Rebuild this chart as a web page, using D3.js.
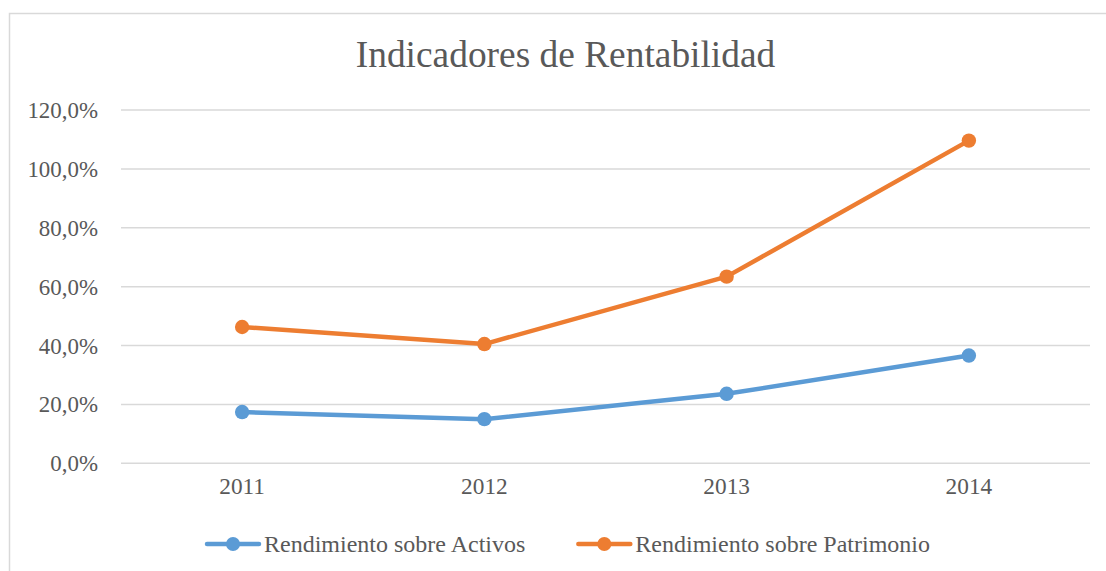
<!DOCTYPE html>
<html>
<head>
<meta charset="utf-8">
<script src="https://cdn.jsdelivr.net/npm/d3@7"></script>
<style>
  body { margin: 0; background: #fff; }
  svg { display: block; font-family: "Liberation Serif", "Times New Roman", serif; }
</style>
</head>
<body>
<div id="chart"></div>
<script>
// Datos
const years = ["2011", "2012", "2013", "2014"];
const activos = [0.174, 0.150, 0.236, 0.366];
const patrimonio = [0.463, 0.405, 0.634, 1.096];
const yTicks = [0, 0.2, 0.4, 0.6, 0.8, 1.0, 1.2];
const seriesNames = ["Rendimiento sobre Activos", "Rendimiento sobre Patrimonio"];
const seriesColors = ["#5B9BD5", "#ED7D31"];

const width = 1106, height = 571;
const textColor = "#595959";
const gridColor = "#D9D9D9";
const serif = "'Liberation Serif', 'Times New Roman', serif";

const svg = d3.select("#chart")
  .append("svg")
  .attr("width", width)
  .attr("height", height);

// Marco del gráfico (se sale por la derecha y abajo)
svg.append("rect")
  .attr("x", 9.5)
  .attr("y", 13.5)
  .attr("width", 1110)
  .attr("height", 580)
  .attr("fill", "none")
  .attr("stroke", gridColor)
  .attr("stroke-width", 1.5);

// Escalas
const x = d3.scaleBand().domain(years).range([121, 1090]);
const y = d3.scaleLinear().domain([0, 1.2]).range([463.3, 110]);
const fmt = d => d3.format(".1f")(d * 100).replace(".", ",") + "%";

// Título
svg.append("text")
  .attr("x", 565.5)
  .attr("y", 67)
  .attr("text-anchor", "middle")
  .attr("font-family", serif)
  .attr("font-size", 37.4)
  .attr("fill", textColor)
  .text("Indicadores de Rentabilidad");

// Líneas de cuadrícula
svg.append("g")
  .selectAll("line")
  .data(yTicks)
  .join("line")
  .attr("x1", 121)
  .attr("x2", 1090)
  .attr("y1", d => y(d))
  .attr("y2", d => y(d))
  .attr("stroke", gridColor)
  .attr("stroke-width", 1.5);

// Eje Y
const yAxis = svg.append("g")
  .attr("transform", "translate(106,0)")
  .call(d3.axisLeft(y).tickValues(yTicks).tickFormat(fmt).tickSize(0).tickPadding(8));
yAxis.attr("font-family", serif);
yAxis.select(".domain").remove();
yAxis.selectAll("text")
  .attr("font-size", 22.9)
  .attr("fill", textColor)
  .attr("dy", "0.33em");

// Eje X
const xAxis = svg.append("g")
  .attr("transform", "translate(0,463.3)")
  .call(d3.axisBottom(x).tickSize(0).tickPadding(14));
xAxis.attr("font-family", serif);
xAxis.select(".domain").remove();
xAxis.selectAll("text")
  .attr("font-size", 23.3)
  .attr("fill", textColor)
  .attr("dy", "0.71em");

// Series
const data = [activos, patrimonio];
const line = d3.line()
  .x((d, i) => x(years[i]) + x.bandwidth() / 2)
  .y(d => y(d));

data.forEach((vals, s) => {
  svg.append("path")
    .datum(vals)
    .attr("d", line)
    .attr("fill", "none")
    .attr("stroke", seriesColors[s])
    .attr("stroke-width", 4.5)
    .attr("stroke-linejoin", "round")
    .attr("stroke-linecap", "round");

  svg.append("g")
    .selectAll("circle")
    .data(vals)
    .join("circle")
    .attr("cx", (d, i) => x(years[i]) + x.bandwidth() / 2)
    .attr("cy", d => y(d))
    .attr("r", 7.2)
    .attr("fill", seriesColors[s]);
});

// Leyenda
const legend = svg.append("g");
let lx = 0;
seriesNames.forEach((name, s) => {
  const item = legend.append("g").attr("transform", `translate(${lx},0)`);
  item.append("line")
    .attr("x1", 2).attr("x2", 54)
    .attr("y1", 0).attr("y2", 0)
    .attr("stroke", seriesColors[s])
    .attr("stroke-width", 4.5)
    .attr("stroke-linecap", "round");
  item.append("circle")
    .attr("cx", 28).attr("cy", 0).attr("r", 7)
    .attr("fill", seriesColors[s]);
  const t = item.append("text")
    .attr("x", 59)
    .attr("y", 7.5)
    .attr("font-family", serif)
    .attr("font-size", 24)
    .attr("fill", textColor)
    .text(name);
  lx += 59 + t.node().getComputedTextLength() + 51;
});
const legendW = lx - 51;
legend.attr("transform", `translate(${567.5 - legendW / 2},544)`);
</script>
</body>
</html>
